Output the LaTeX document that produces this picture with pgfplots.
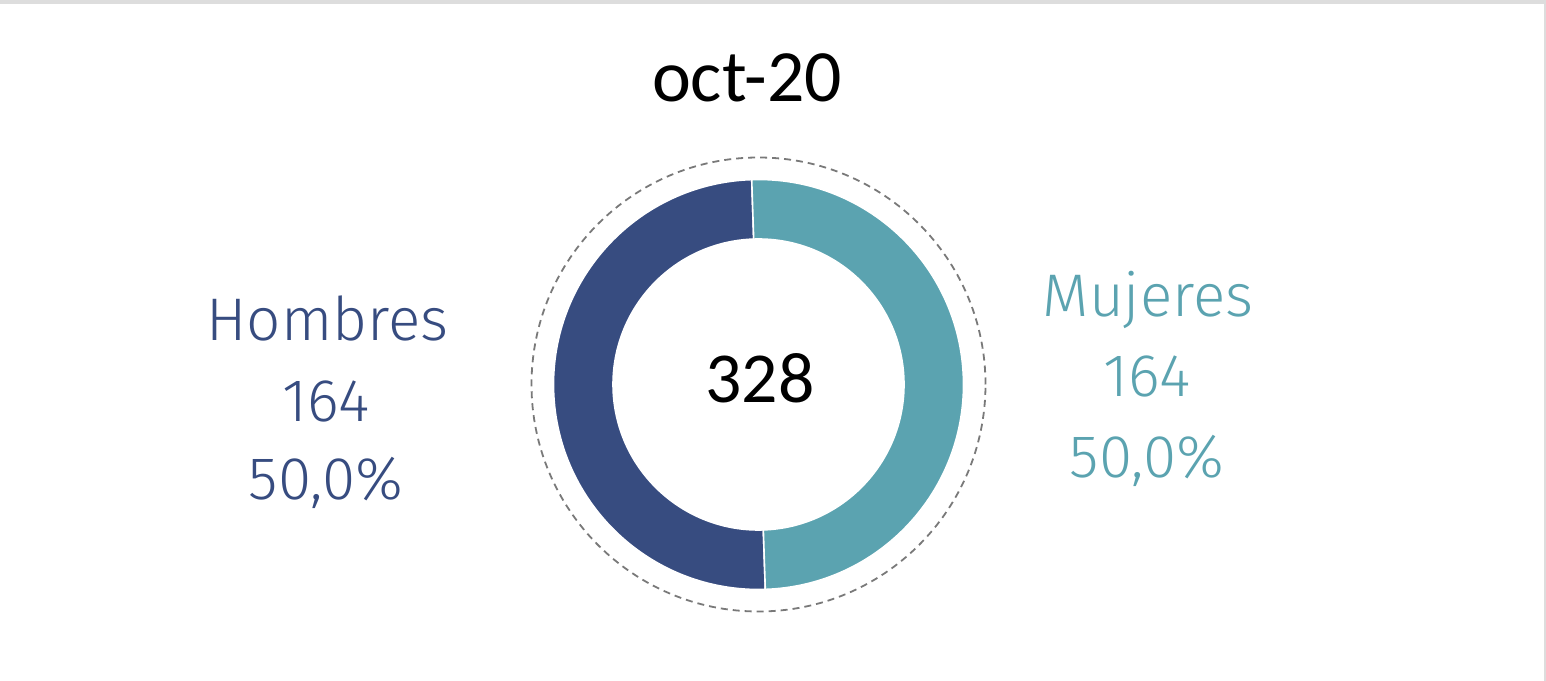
\documentclass[border=0pt]{standalone}
\usepackage{fontspec}
\setmainfont{Carlito}
\newfontfamily\lightfont{Fira Sans Light}
\usepackage{pgfplots}
\usepackage{pgfplotstable}
\pgfplotsset{compat=1.18}
\definecolor{hombres}{HTML}{374C80}
\definecolor{mujeres}{HTML}{5BA3B0}
\definecolor{frame}{HTML}{DDDDDD}
\pgfplotstableread{
label value
Hombres 164
Mujeres 164
}\sexdata
\pgfplotstablegetelem{0}{value}\of\sexdata \let\vH\pgfplotsretval
\pgfplotstablegetelem{1}{value}\of\sexdata \let\vM\pgfplotsretval
\pgfmathtruncatemacro{\total}{\vH+\vM}
\pgfmathsetmacro{\aStart}{91.9}
\pgfmathsetmacro{\aMid}{\aStart+360*(\vH/\total)}
\pgfmathsetmacro{\aEnd}{\aMid+360*(\vM/\total)}
\begin{document}
\begin{tikzpicture}
\begin{axis}[
  width=773bp, height=340.5bp, scale only axis,
  xmin=0, xmax=1546, ymin=0, ymax=681,
  axis lines=none, clip=false,
]
\path (axis cs:0,0) rectangle (axis cs:1546,681);
% frame
\fill[frame] (axis cs:0,677) rectangle (axis cs:1546,681);
\fill[frame] (axis cs:1543.5,0) rectangle (axis cs:1546,681);
% dashed ring
\draw[gray!95!black, line width=0.9bp, dash pattern=on 3.5bp off 2.5bp]
  (axis cs:758.5,296.5) circle[radius=113.5bp];
% slices
\fill[hombres, draw=white, line width=0.8bp, shift={(axis cs:758.5,296.5)}]
  (\aStart:102.5bp) arc[start angle=\aStart, end angle=\aMid, radius=102.5bp]
  -- (\aMid:72.75bp) arc[start angle=\aMid, end angle=\aStart, radius=72.75bp] -- cycle;
\fill[mujeres, draw=white, line width=0.8bp, shift={(axis cs:758.5,296.5)}]
  (\aMid:102.5bp) arc[start angle=\aMid, end angle=\aEnd, radius=102.5bp]
  -- (\aEnd:72.75bp) arc[start angle=\aEnd, end angle=\aMid, radius=72.75bp] -- cycle;
% texts
\node[anchor=base, inner sep=0pt, font=\fontsize{37}{40}\selectfont] at (axis cs:747,579) {oct-20};
\node[anchor=base, inner sep=0pt, font=\fontsize{36}{40}\selectfont] at (axis cs:760,278) {\total};
\begin{scope}[every node/.style={anchor=base, inner sep=0pt, text=hombres, font=\lightfont\fontsize{30.2}{34}\selectfont}]
\node at (axis cs:327.5,340) {Hombres};
\node at (axis cs:326,259) {\vH};
\node at (axis cs:326,181) {50,0\%};
\end{scope}
\begin{scope}[every node/.style={anchor=base, inner sep=0pt, text=mujeres, font=\lightfont\fontsize{30.2}{34}\selectfont}]
\node at (axis cs:1148,364) {Mujeres};
\node at (axis cs:1147,284) {\vM};
\node at (axis cs:1147,203) {50,0\%};
\end{scope}
\end{axis}
\end{tikzpicture}
\end{document}
